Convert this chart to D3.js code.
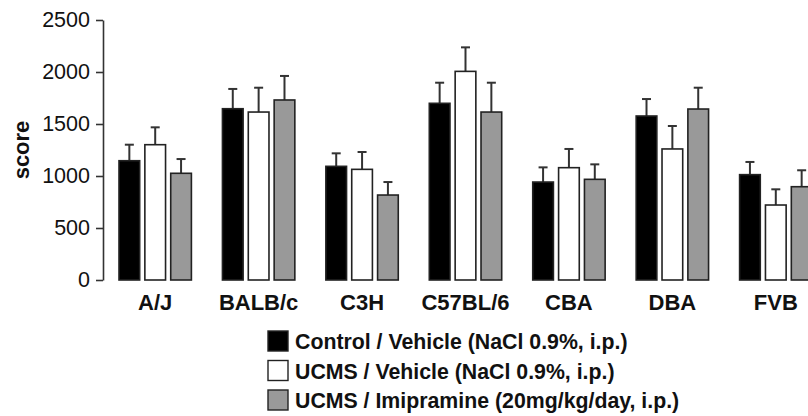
<!DOCTYPE html>
<html><head><meta charset="utf-8">
<script src="https://cdn.jsdelivr.net/npm/d3@7"></script>
<style>body{margin:0;background:#fff}svg{display:block}text{font-family:"Liberation Sans",Arial,sans-serif}</style>
</head><body><svg id="c" width="808" height="416"></svg>
<script>
const categories = ["A/J","BALB/c","C3H","C57BL/6","CBA","DBA","FVB"];
const seriesNames = ["Control / Vehicle (NaCl 0.9%, i.p.)","UCMS / Vehicle (NaCl 0.9%, i.p.)","UCMS / Imipramine (20mg/kg/day, i.p.)"];
const controlMean = [1147,1647,1093,1699,942,1577,1013];
const ucmsMean    = [1301,1615,1064,2006,1080,1260,721];
const imiMean     = [1026,1731,817,1615,968,1644,897];
const controlErr  = [154,190,125,198,141,163,122];
const ucmsErr     = [167,234,167,231,180,221,151];
const imiErr      = [137,231,125,282,144,205,158];
const yTicks = [0,500,1000,1500,2000,2500];
const fills = ["#000000","#ffffff","#999999"];

const means=[controlMean,ucmsMean,imiMean], errs=[controlErr,ucmsErr,imiErr];
const svg=d3.select("#c");
const y=d3.scaleLinear().domain([0,2500]).range([280,20]);
const x=d3.scaleBand().domain(categories).range([119,812]).paddingInner(0.3).paddingOuter(0);
const xs=d3.scaleBand().domain(d3.range(3)).range([0,x.bandwidth()]).paddingInner(0.2);

const ax=svg.append("g").attr("transform","translate(103,0)")
  .call(d3.axisLeft(y).tickValues(yTicks).tickFormat(d3.format("d")).tickSize(7).tickSizeOuter(0).tickPadding(6));
ax.select(".domain").attr("stroke","#333").attr("stroke-width",1.6);
ax.selectAll(".tick line").attr("stroke","#333").attr("stroke-width",1.6);
ax.selectAll(".tick text").attr("font-size",21.5).attr("fill","#111").attr("font-family","Liberation Sans, Arial, sans-serif");

svg.append("text").attr("transform","translate(29,150) rotate(-90)").attr("text-anchor","middle")
  .attr("font-size",22).attr("font-weight","bold").attr("fill","#111").text("score");

const data=[];
categories.forEach((c,i)=>{for(let s=0;s<3;s++)data.push({c,s,v:means[s][i],e:errs[s][i]});});
const g=svg.append("g");
g.selectAll("line.err").data(data).join("line").attr("class","err")
  .attr("x1",d=>x(d.c)+xs(d.s)+xs.bandwidth()/2).attr("x2",d=>x(d.c)+xs(d.s)+xs.bandwidth()/2)
  .attr("y1",d=>y(d.v)).attr("y2",d=>y(d.v+d.e)).attr("stroke","#333").attr("stroke-width",2);
g.selectAll("line.cap").data(data).join("line").attr("class","cap")
  .attr("x1",d=>x(d.c)+xs(d.s)+xs.bandwidth()/2-4.5).attr("x2",d=>x(d.c)+xs(d.s)+xs.bandwidth()/2+4.5)
  .attr("y1",d=>y(d.v+d.e)).attr("y2",d=>y(d.v+d.e)).attr("stroke","#333").attr("stroke-width",2);
g.selectAll("rect.bar").data(data).join("rect").attr("class","bar")
  .attr("x",d=>x(d.c)+xs(d.s)).attr("width",xs.bandwidth())
  .attr("y",d=>y(d.v)).attr("height",d=>y(0)-y(d.v))
  .attr("fill",d=>fills[d.s]).attr("stroke","#222").attr("stroke-width",1.6);

svg.selectAll("text.xl").data(categories).join("text").attr("class","xl")
  .attr("x",d=>x(d)+x.bandwidth()/2).attr("y",310).attr("text-anchor","middle")
  .attr("font-size",22).attr("font-weight","bold").attr("fill","#111").text(d=>d);

const lg=svg.append("g");
seriesNames.forEach((n,i)=>{
  const yy=331+i*29.5;
  lg.append("rect").attr("x",268).attr("y",yy).attr("width",20).attr("height",20)
    .attr("fill",fills[i]).attr("stroke","#222").attr("stroke-width",1.4);
  lg.append("text").attr("x",295).attr("y",yy+18).attr("font-size",21.3).attr("font-weight","bold")
    .attr("fill","#111").text(n);
});
</script></body></html>
